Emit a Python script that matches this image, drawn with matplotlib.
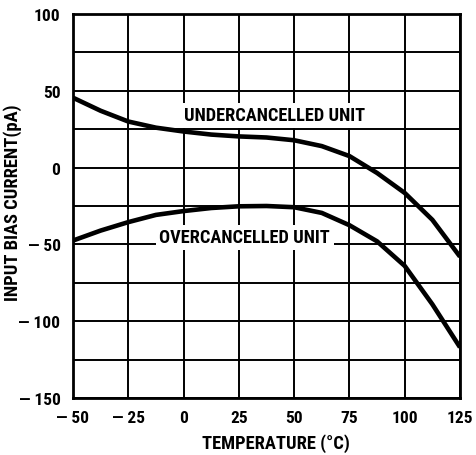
import matplotlib
matplotlib.use("Agg")
import matplotlib.pyplot as plt
from matplotlib import font_manager

# Prefer a narrow sans face for the condensed lettering
available = {f.name for f in font_manager.fontManager.ttflist}
narrow_choices = ['Liberation Sans Narrow', 'Roboto Condensed', 'Open Sans Condensed',
                  'Arial Narrow', 'Nimbus Sans Narrow', 'DejaVu Sans Condensed']
FAMILY = None
STRETCH = 'normal'
for name in narrow_choices:
    if name in available:
        FAMILY = name
        break
if FAMILY is None:
    condensed_dejavu = [f for f in font_manager.fontManager.ttflist
                        if f.name == 'DejaVu Sans' and 'Condensed' in f.fname]
    FAMILY = 'DejaVu Sans'
    if condensed_dejavu:
        STRETCH = 'condensed'

plt.rcParams['font.family'] = [FAMILY, 'DejaVu Sans']
plt.rcParams['font.stretch'] = STRETCH

# Temperature sweep (°C) and input bias current (pA) for the two units
temperature = [-50, -37.5, -25, -12.5, 0, 12.5, 25, 37.5, 50, 62.5, 75, 87.5, 100, 112.5, 125]
undercancelled = [45.5, 37, 30, 26, 23.5, 21.5, 20.3, 19.6, 17.8, 14, 7.5, -3.5, -16.5, -34, -58]
overcancelled = [-47.5, -41, -35.5, -30.8, -28.3, -26.3, -25.2, -25, -25.8, -29.5, -37.5, -48, -64, -89, -117]

x_ticks = [-50, -25, 0, 25, 50, 75, 100, 125]
x_tick_labels = ["\u2014 50", "\u2014 25", "0", "25", "50", "75", "100", "125"]
y_ticks = [-150, -100, -50, 0, 50, 100]
y_tick_labels = ["\u2014 150", "\u2014 100", "\u2014 50", "0", "50", "100"]
y_grid = list(range(-150, 101, 25))

fig = plt.figure(figsize=(4.76, 4.56), dpi=100)
ax = fig.add_axes([73 / 476, 57 / 456, 387 / 476, 384 / 456])

ax.set_xlim(-50, 125)
ax.set_ylim(-150, 100)

# grid: every 25 °C and every 25 pA
for yv in y_grid:
    ax.axhline(yv, color='black', lw=1.4, zorder=1)
for xv in x_ticks:
    ax.axvline(xv, color='black', lw=1.4, zorder=1)

ax.plot(temperature, undercancelled, color='black', lw=3.3, solid_capstyle='butt',
        solid_joinstyle='round', zorder=3)
ax.plot(temperature, overcancelled, color='black', lw=3.3, solid_capstyle='butt',
        solid_joinstyle='round', zorder=3)

label_kw = dict(fontsize=13.2, fontweight='bold', ha='center', color='black', zorder=4,
                bbox=dict(facecolor='white', edgecolor='none', pad=2.5))
ax.text(41, 34, 'UNDERCANCELLED UNIT', va='center', **label_kw)
ax.text(27.7, -48.5, 'OVERCANCELLED UNIT', va='baseline', **label_kw)

ax.set_xticks(x_ticks)
ax.set_xticklabels(x_tick_labels)
ax.set_yticks(y_ticks)
ax.set_yticklabels(y_tick_labels)
ax.tick_params(length=0, labelsize=12.5, pad=9)
for lab in ax.get_xticklabels() + ax.get_yticklabels():
    lab.set_fontweight('bold')

ax.set_xlabel('TEMPERATURE (\u00b0C)', fontsize=13.3, fontweight='bold')
ax.set_ylabel('INPUT BIAS CURRENT(pA)', fontsize=13.3, fontweight='bold')
ax.xaxis.set_label_coords(0.525, -0.092)
ax.yaxis.set_label_coords(-0.132, 0.51)

for sp in ax.spines.values():
    sp.set_linewidth(2.0)
    sp.set_zorder(5)

fig.savefig('out.png', dpi=100, facecolor='white')
